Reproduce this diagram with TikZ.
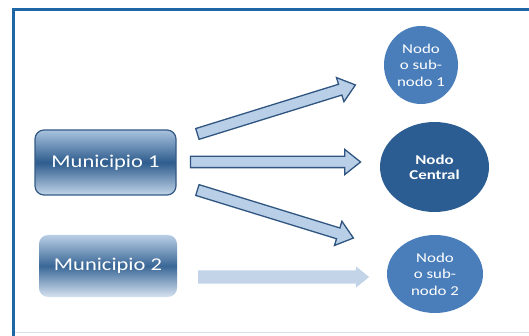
\documentclass[tikz,border=0pt]{standalone}
\usepackage{fontspec}
\newfontfamily\wide[FakeStretch=1.25]{Carlito}
\usetikzlibrary{shapes.arrows,shapes.geometric,calc}

\definecolor{frameblue}{HTML}{1F66A6}
\definecolor{framefaint}{HTML}{D6E4F1}
\definecolor{muniedge}{HTML}{345A84}
\definecolor{muniTop}{HTML}{A9C3DF}
\definecolor{muniMid}{HTML}{2E5C8D}
\definecolor{muniBot}{HTML}{C2D5E9}
\definecolor{muniTopB}{HTML}{B9CEE5}
\definecolor{muniMidB}{HTML}{3A6796}
\definecolor{muniBotB}{HTML}{D6E3F0}
\definecolor{subfill}{HTML}{4A7EBB}
\definecolor{centralfill}{HTML}{2B5D92}
\definecolor{arrowfill}{HTML}{B9CFE7}
\definecolor{arrowedge}{HTML}{2F5580}
\definecolor{arrowpale}{HTML}{C3D4E8}

% draws a block arrow (single arrow shape) from coordinate #2 to coordinate #3
\newcommand\blockarrow[3]{%
  \path let \p1=($(#3)-(#2)$), \n1={atan2(\y1,\x1)}, \n2={veclen(\x1,\y1)} in
    node[#1, rotate=\n1, minimum height=\n2] at ($(#2)!0.5!(#3)$) {};}

\begin{document}
\begin{tikzpicture}[x=1pt,y=-1pt,
  munibox/.style={rectangle, rounded corners=9pt, text=white,
    font=\wide\fontsize{18}{21}\selectfont, inner sep=0pt},
  subnode/.style={ellipse, fill=subfill, text=white, inner sep=0pt, align=center,
    font=\wide\fontsize{13.5}{16.5}\selectfont},
  centralnode/.style={ellipse, fill=centralfill, text=white, inner sep=0pt, align=center,
    font=\wide\bfseries\fontsize{13.5}{15}\selectfont},
  linkarrow/.style={single arrow, fill=arrowfill, draw=arrowedge, line width=1.3pt,
    inner xsep=0pt, inner ysep=5pt, single arrow head extend=7pt,
    single arrow tip angle=77},
  palearrow/.style={single arrow, fill=arrowpale, draw=none,
    inner xsep=0pt, inner ysep=6.5pt, single arrow head extend=4pt,
    single arrow tip angle=78},
  frameline/.style={draw=frameblue, line width=3pt}]

\useasboundingbox (0,0) rectangle (529,336);
\clip (0,0) rectangle (529,336);
\fill[white] (0,0) rectangle (529,336);

% page frame: only its top and left edges fall on the page
\draw[framefaint, line width=1.5pt] (15,332.5) -- (529,332.5);
\draw[frameline] (529,9.5) -- (13.5,9.5) -- (13.5,336);

% municipalities
\node[munibox, draw=muniedge, line width=1.2pt,
  top color=muniTop, bottom color=muniBot, middle color=muniMid,
  minimum width=141pt, minimum height=65pt] (m1) at (105.5,162.5) {Municipio 1};
\node[munibox,
  top color=muniTopB, bottom color=muniBotB, middle color=muniMidB,
  minimum width=138pt, minimum height=62pt] (m2) at (108,266) {Municipio 2};

% nodes
\node[subnode, minimum width=74pt, minimum height=78pt] (n1) at (421,65) {Nodo\\o sub-\\nodo 1};
\node[centralnode, minimum width=109pt, minimum height=90pt] (nc) at (434.5,167) {Nodo\\Central};
\node[subnode, minimum width=96pt, minimum height=78pt] (n2) at (435,274) {Nodo\\o sub-\\nodo 2};

% arrow end points
\coordinate (a1s) at (194,135);
\coordinate (a1e) at (352,86);
\coordinate (a2s) at (187,162);
\coordinate (a2e) at (357,162);
\coordinate (a3s) at (194,189);
\coordinate (a3e) at (350,237);
\coordinate (a4s) at (194,277);
\coordinate (a4e) at (365,277);

\blockarrow{linkarrow}{a1s}{a1e}
\blockarrow{linkarrow}{a2s}{a2e}
\blockarrow{linkarrow}{a3s}{a3e}
\blockarrow{palearrow}{a4s}{a4e}
\end{tikzpicture}
\end{document}
